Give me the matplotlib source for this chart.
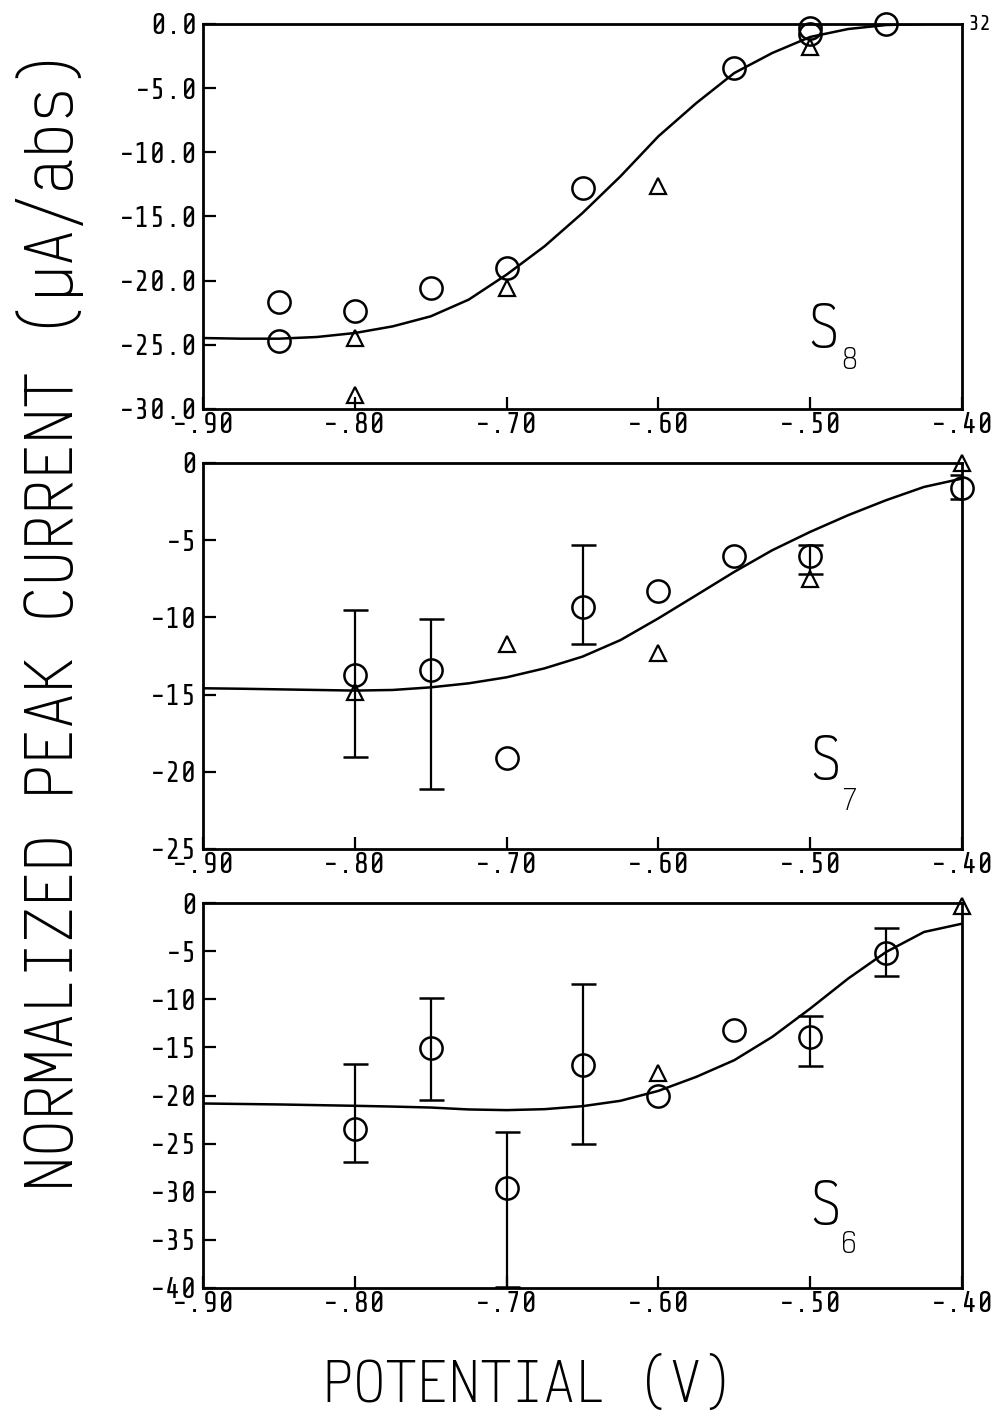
import matplotlib
matplotlib.use("Agg")
import matplotlib.pyplot as plt
import numpy as np

# ---------------- data ----------------
x_ticks = [-0.90, -0.80, -0.70, -0.60, -0.50, -0.40]
x_tick_labels = ["-.90", "-.80", "-.70", "-.60", "-.50", "-.40"]

# Panel S8
s8_yticks = [0.0, -5.0, -10.0, -15.0, -20.0, -25.0, -30.0]
s8_ytick_labels = ["0.0", "-5.0", "-10.0", "-15.0", "-20.0", "-25.0", "-30.0"]
s8_circ_x = [-0.85, -0.85, -0.80, -0.75, -0.70, -0.65, -0.55, -0.50, -0.50, -0.45]
s8_circ_y = [-21.7, -24.7, -22.4, -20.6, -19.0, -12.8, -3.4, -0.3, -0.8, 0.0]
s8_tri_x = [-0.80, -0.80, -0.70, -0.60, -0.50]
s8_tri_y = [-24.5, -28.9, -20.6, -12.6, -1.8]
s8_fit_x = [-0.90, -0.875, -0.85, -0.825, -0.80, -0.775, -0.75, -0.725, -0.70, -0.675,
            -0.65, -0.625, -0.60, -0.575, -0.55, -0.525, -0.50, -0.475, -0.45, -0.425]
s8_fit_y = [-24.47, -24.52, -24.52, -24.39, -24.08, -23.56, -22.78, -21.48, -19.53, -17.32,
            -14.73, -11.87, -8.75, -6.16, -3.82, -2.26, -1.01, -0.39, -0.08, 0.0]

# Panel S7
s7_yticks = [0, -5, -10, -15, -20, -25]
s7_ytick_labels = ["0", "-5", "-10", "-15", "-20", "-25"]
s7_circ_x = [-0.80, -0.75, -0.70, -0.65, -0.60, -0.55, -0.50, -0.40]
s7_circ_y = [-13.7, -13.4, -19.1, -9.3, -8.3, -6.0, -6.0, -1.6]
s7_tri_x = [-0.80, -0.70, -0.60, -0.50, -0.40]
s7_tri_y = [-14.8, -11.7, -12.3, -7.5, 0.0]
s7_err_x = [-0.80, -0.75, -0.65, -0.50, -0.40]
s7_err_top = [-9.5, -10.1, -5.3, -5.3, -0.8]
s7_err_bot = [-19.05, -21.1, -11.7, -7.2, -2.3]
s7_fit_x = [-0.90, -0.875, -0.85, -0.825, -0.80, -0.775, -0.75, -0.725, -0.70, -0.675,
            -0.65, -0.625, -0.60, -0.575, -0.55, -0.525, -0.50, -0.475, -0.45, -0.425, -0.40]
s7_fit_y = [-14.59, -14.62, -14.66, -14.70, -14.74, -14.70, -14.53, -14.27, -13.88, -13.30,
            -12.54, -11.47, -10.06, -8.56, -7.05, -5.65, -4.46, -3.38, -2.41, -1.55, -1.01]

# Panel S6
s6_yticks = [0, -5, -10, -15, -20, -25, -30, -35, -40]
s6_ytick_labels = ["0", "-5", "-10", "-15", "-20", "-25", "-30", "-35", "-40"]
s6_circ_x = [-0.80, -0.75, -0.70, -0.65, -0.60, -0.55, -0.50, -0.45]
s6_circ_y = [-23.5, -15.1, -29.65, -16.85, -20.1, -13.2, -13.9, -5.2]
s6_tri_x = [-0.60, -0.40]
s6_tri_y = [-17.7, -0.3]
s6_err_x = [-0.80, -0.75, -0.70, -0.65, -0.50, -0.45]
s6_err_top = [-16.7, -9.9, -23.8, -8.4, -11.7, -2.6]
s6_err_bot = [-26.9, -20.5, -39.9, -25.0, -16.9, -7.6]
s6_fit_x = [-0.90, -0.875, -0.85, -0.825, -0.80, -0.775, -0.75, -0.725, -0.70, -0.675,
            -0.65, -0.625, -0.60, -0.575, -0.55, -0.525, -0.50, -0.475, -0.45, -0.425, -0.40]
s6_fit_y = [-20.83, -20.88, -20.93, -21.00, -21.07, -21.15, -21.25, -21.45, -21.52, -21.42,
            -21.11, -20.55, -19.52, -18.06, -16.33, -13.91, -10.97, -7.85, -5.09, -3.01, -2.15]

y_label = "NORMALIZED PEAK CURRENT (\u00b5A/abs)"
x_label = "POTENTIAL (V)"
page_number = "32"

# ---------------- drawing ----------------
W, H = 1001, 1416
fig = plt.figure(figsize=(W / 100, H / 100), dpi=100)
fig.patch.set_facecolor("white")

TICK_FAM = ["Share Tech Mono", "DejaVu Sans Mono"]
LAB_FAM = ["Victor Mono", "Share Tech Mono", "DejaVu Sans Mono"]
r = fig.canvas.get_renderer()

def fit_size(text, fam, target_px, base=40):
    t = fig.text(0, 0, text, fontsize=base, family=fam)
    bb = t.get_window_extent(r)
    t.remove()
    return base * target_px / bb.width

tick_font = {"family": TICK_FAM, "size": fit_size("-25.0", TICK_FAM, 79)}

def px_axes(left, right, top, bottom):
    return [left / W, 1 - bottom / H, (right - left) / W, (bottom - top) / H]

panels = [
    dict(rect=px_axes(203, 962, 24, 409), ylim=(-30, 0), yticks=s8_yticks, ylabels=s8_ytick_labels,
         cx=s8_circ_x, cy=s8_circ_y, tx=s8_tri_x, ty=s8_tri_y, ex=None,
         fx=s8_fit_x, fy=s8_fit_y, sub="8", spos=(0.817, 0.205), subpos=(0.852, 0.125)),
    dict(rect=px_axes(203, 962, 463, 849), ylim=(-25, 0), yticks=s7_yticks, ylabels=s7_ytick_labels,
         cx=s7_circ_x, cy=s7_circ_y, tx=s7_tri_x, ty=s7_tri_y,
         ex=s7_err_x, et=s7_err_top, eb=s7_err_bot,
         fx=s7_fit_x, fy=s7_fit_y, sub="7", spos=(0.820, 0.225), subpos=(0.851, 0.122)),
    dict(rect=px_axes(203, 962, 903, 1288), ylim=(-40, 0), yticks=s6_yticks, ylabels=s6_ytick_labels,
         cx=s6_circ_x, cy=s6_circ_y, tx=s6_tri_x, ty=s6_tri_y,
         ex=s6_err_x, et=s6_err_top, eb=s6_err_bot,
         fx=s6_fit_x, fy=s6_fit_y, sub="6", spos=(0.820, 0.21), subpos=(0.851, 0.112)),
]

s_size = 38.5      # cap height ~45 px
sub_size = 19.0    # digit height ~23 px

for p in panels:
    ax = fig.add_axes(p["rect"])
    ax.set_xlim(-0.90, -0.40)
    ax.set_ylim(*p["ylim"])
    for s in ax.spines.values():
        s.set_linewidth(2.0)
        s.set_color("black")
    ax.set_xticks(x_ticks)
    ax.set_xticklabels(x_tick_labels, fontdict=tick_font)
    ax.set_yticks(p["yticks"])
    ax.set_yticklabels(p["ylabels"], fontdict=tick_font)
    ax.tick_params(axis="both", direction="in", length=9, width=1.6, color="black")
    ax.tick_params(axis="x", pad=2)
    ax.tick_params(axis="y", pad=4)

    ax.plot(p["fx"], p["fy"], color="black", lw=1.8, zorder=2)
    if p["ex"] is not None:
        ex = np.array(p["ex"]); et = np.array(p["et"]); eb = np.array(p["eb"])
        ax.errorbar(ex, (et + eb) / 2, yerr=(et - eb) / 2, fmt="none", ecolor="black",
                    elinewidth=1.6, capsize=9, capthick=1.8, zorder=3)
    ax.plot(p["cx"], p["cy"], linestyle="none", marker="o", ms=16, mfc="none",
            mec="black", mew=1.8, clip_on=False, zorder=4)
    ax.plot(p["tx"], p["ty"], linestyle="none", marker="^", ms=11, mfc="none",
            mec="black", mew=1.6, clip_on=False, zorder=4)

    ax.text(p["spos"][0], p["spos"][1], "S", transform=ax.transAxes, ha="center",
            va="center", fontsize=s_size, family=LAB_FAM)
    ax.text(p["subpos"][0], p["subpos"][1], p["sub"], transform=ax.transAxes, ha="center",
            va="center", fontsize=sub_size, family=LAB_FAM)

# axis titles, sized to their spans in the reference
yl = fig.text(50 / W, 1 - 621 / H, y_label, rotation=90, ha="center", va="center",
              fontsize=40, family=LAB_FAM)
xl = fig.text(528 / W, 1 - 1383 / H, x_label, ha="center", va="center",
              fontsize=40, family=LAB_FAM)
fig.text(979 / W, 1 - 25 / H, page_number, ha="center", va="center",
         fontsize=fit_size("32", TICK_FAM, 24), family=TICK_FAM)

bb = yl.get_window_extent(r)
yl.set_fontsize(40 * 1143 / bb.height)
bb = xl.get_window_extent(r)
xl.set_fontsize(40 * 411 / bb.width)

fig.savefig("out.png", dpi=100, facecolor="white")
